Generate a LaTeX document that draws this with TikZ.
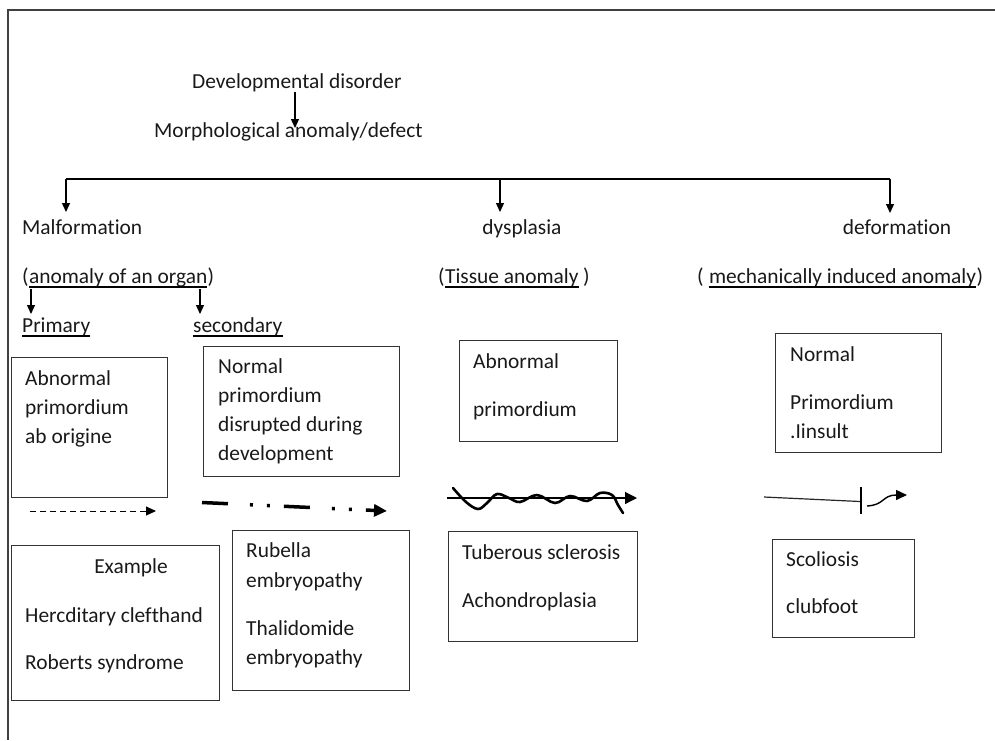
\documentclass[tikz,border=0pt]{standalone}
\usepackage{fontspec}
\setmainfont{Carlito}[Ligatures=NoCommon]
\usetikzlibrary{arrows.meta}
\begin{document}
\begin{tikzpicture}[x=1pt,y=-1pt,
  every node/.style={font=\fontsize{21.4}{25}\selectfont, inner sep=0pt, text=black!90},
  txt/.style={anchor=base west},
  uln/.style={line width=1.1pt},
  boxr/.style={draw=black!80, line width=1.3pt},
  arr/.style={line width=1.2pt, -{Triangle[length=9pt,width=8pt]}},
  frame/.style={draw=black!75, line width=1.6pt}]
\useasboundingbox (0,0) rectangle (995,740);
% frame
\coordinate (fa) at (995,10);
\coordinate (fb) at (8,10);
\coordinate (fc) at (8,740);
\draw[frame] (fa) -- (fb) -- (fc);
% title
\node[txt] (dev) at (192,88) {Developmental disorder};
\node[txt] (morph) at (154,137) {Morphological anomaly/defect};
\coordinate (t1) at (295,92);
\coordinate (t2) at (295,128);
\draw[arr] (t1) -- (t2);
% bracket
\coordinate (bl) at (66,179);
\coordinate (bm) at (500,179);
\coordinate (br) at (890,179);
\coordinate (blt) at (66,212);
\coordinate (bmt) at (500,212);
\coordinate (brt) at (890,213);
\draw[line width=1.2pt] (bl) -- (br);
\draw[arr] (bl) -- (blt);
\draw[arr] (bm) -- (bmt);
\draw[arr] (br) -- (brt);
% headings
\node[txt] (malf) at (22,234) {Malformation};
\node[anchor=base] (dysp) at (522,234) {dysplasia};
\node[anchor=base] (defo) at (897,234) {deformation};
\node[txt] (o1) at (22,283) {(};
\node[txt] (o2) at (o1.base east) {anomaly of an organ};
\node[txt] (o3) at (o2.base east) {)};
\draw[uln] ([yshift=-4pt]o2.base west) -- ([yshift=-4pt]o2.base east);
\node[txt] (t1a) at (438,283) {(};
\node[txt] (t1b) at (t1a.base east) {Tissue anomaly};
\node[txt] (t1c) at ([xshift=4pt]t1b.base east) {)};
\draw[uln] ([yshift=-4pt]t1b.base west) -- ([yshift=-4pt]t1b.base east);
\node[txt] (m1) at (697,283) {(};
\node[txt] (m2) at ([xshift=5pt]m1.base east) {mechanically induced anomaly};
\node[txt] (m3) at (m2.base east) {)};
\draw[uln] ([yshift=-4pt]m2.base west) -- ([yshift=-4pt]m2.base east);
\coordinate (p1) at (31,289);
\coordinate (p2) at (31,314);
\coordinate (s1) at (200,289);
\coordinate (s2) at (200,314);
\draw[arr] (p1) -- (p2);
\draw[arr] (s1) -- (s2);
\node[txt] (prim) at (22,332) {Primary};
\draw[uln] ([yshift=-4pt]prim.base west) -- ([yshift=-4pt]prim.base east);
\node[txt] (sec) at (193,332) {secondary};
\draw[uln] ([yshift=-4pt]sec.base west) -- ([yshift=-4pt]sec.base east);
% boxes
\node[boxr, anchor=north west, minimum width=156pt, minimum height=140pt] (b1) at (11,357) {};
\node[txt] (b1a) at (25,385) {Abnormal};
\node[txt] (b1b) at (25,414) {primordium};
\node[txt] (b1c) at (25,443) {ab origine};
\node[boxr, anchor=north west, minimum width=196pt, minimum height=130pt] (b2) at (203,346) {};
\node[txt] (b2a) at (218,373) {Normal};
\node[txt] (b2b) at (218,402) {primordium};
\node[txt] (b2c) at (218,431) {disrupted during};
\node[txt] (b2d) at (218,460) {development};
\node[boxr, anchor=north west, minimum width=158pt, minimum height=101pt] (b3) at (459,340) {};
\node[txt] (b3a) at (473,368) {Abnormal};
\node[txt] (b3b) at (473,416) {primordium};
\node[boxr, anchor=north west, minimum width=166pt, minimum height=119pt] (b4) at (775,333) {};
\node[txt] (b4a) at (790,361) {Normal};
\node[txt] (b4b) at (790,409) {Primordium};
\node[txt] (b4c) at (790,438) {.Iinsult};
\node[boxr, anchor=north west, minimum width=208pt, minimum height=155pt] (b5) at (11,545) {};
\node[anchor=base] (b5a) at (131,573) {Example};
\node[txt] (b5b) at (25,622) {Hercditary clefthand};
\node[txt] (b5c) at (25,669) {Roberts syndrome};
\node[boxr, anchor=north west, minimum width=177pt, minimum height=160pt] (b6) at (232,530) {};
\node[txt] (b6a) at (246,557) {Rubella};
\node[txt] (b6b) at (246,587) {embryopathy};
\node[txt] (b6c) at (246,635) {Thalidomide};
\node[txt] (b6d) at (246,664) {embryopathy};
\node[boxr, anchor=north west, minimum width=189pt, minimum height=110pt] (b7) at (448,531) {};
\node[txt] (b7a) at (462,559) {Tuberous sclerosis};
\node[txt] (b7b) at (462,607) {Achondroplasia};
\node[boxr, anchor=north west, minimum width=142pt, minimum height=98pt] (b8) at (772,539) {};
\node[txt] (b8a) at (786,566) {Scoliosis};
\node[txt] (b8b) at (786,613) {clubfoot};
% arrow 1 dashed
\coordinate (d1) at (30,511);
\coordinate (d2) at (156,511);
\draw[line width=1pt, dash pattern=on 6pt off 4pt, -{Triangle[length=10pt,width=9pt]}] (d1) -- (d2);
% arrow 2 dash-dot-dot
\coordinate (e1) at (202,502.5);
\coordinate (e2) at (387,511);
\draw[line width=3.5pt, dash pattern=on 26pt off 22pt on 3pt off 14pt on 3pt off 14pt, -{Triangle[length=13pt,width=12pt]}] (e1) -- (e2);
% arrow 3 wavy
\coordinate (w1) at (447,498);
\coordinate (w2) at (637,498);
\draw[line width=1.2pt, -{Triangle[length=12pt,width=12pt]}] (w1) -- (w2);
\draw[line width=2.6pt, line cap=round, line join=round] plot[smooth, tension=0.6] coordinates {(453,488) (466,502) (478,509) (487,503) (497,494) (509,498) (520,502) (537,495) (555,503) (570,496) (587,501) (600,493) (612,495) (618,505) (623,513)};
% arrow 4 deformation
\coordinate (f1) at (764,497);
\coordinate (f2) at (860,501.5);
\coordinate (g1) at (861,487);
\coordinate (g2) at (861,514);
\coordinate (h1) at (867,506);
\coordinate (h2) at (907,495);
\draw[line width=1.2pt, draw=black!85] (f1) -- (f2);
\draw[line width=1.6pt] (g1) -- (g2);
\draw[line width=1.4pt, -{Triangle[length=11pt,width=10pt]}] (h1) .. controls (885,505) and (882,495) .. (h2);
\end{tikzpicture}
\end{document}
